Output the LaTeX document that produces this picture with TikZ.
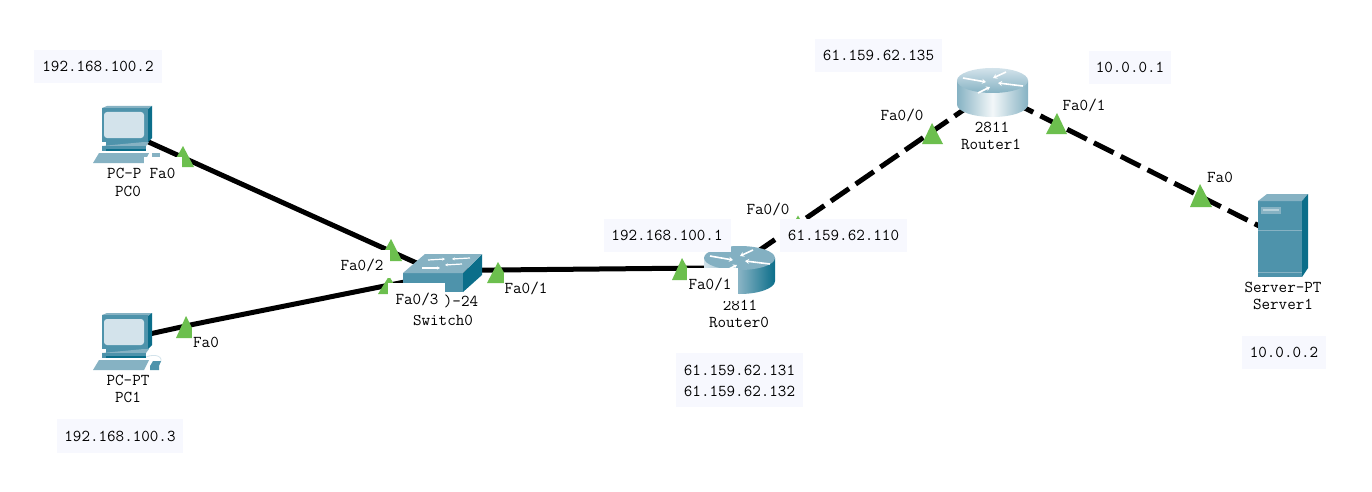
\documentclass[tikz,border=0pt]{standalone}
\usetikzlibrary{arrows.meta}
\definecolor{cfront}{HTML}{4E93AB}
\definecolor{cside}{HTML}{0B6E8A}
\definecolor{ctop}{HTML}{86B2C3}
\definecolor{cscreen}{HTML}{D3E3EB}
\definecolor{cgreen}{HTML}{6CBF4E}
\definecolor{cip}{HTML}{F7F8FE}
\tikzset{
  txt/.style={font=\ttfamily\fontsize{16.6}{19.5}\selectfont,inner sep=0pt,text=black,align=center},
  dev/.style={inner sep=0pt,minimum size=0pt},
  link/.style={line width=5pt,black},
  dlink/.style={link,dash pattern=on 22pt off 8pt},
  port/.style={fill=cgreen,draw=none},
  mask/.style={fill=white,draw=none},
  arr/.style={white,line width=1.6pt,-{Stealth[length=4pt,width=5pt]}},
  sarr/.style={white,line width=1.2pt,-{Stealth[length=3pt,width=3pt]}},
}
\newcommand{\pcicon}[3]{%
\begin{scope}[shift={(#1,#2)}]
  \fill[ctop] (102,108)--(107,106)--(152,106)--(148,109)--cycle;
  \fill[cfront] (102,108)--(148,108)--(148,142)--(102,142)--cycle;
  \fill[cside] (148,109)--(152,106)--(152,138)--(148,142)--cycle;
  \fill[cscreen,rounded corners=3pt] (104,112) rectangle (144,138);
  \fill[cfront] (106,142) rectangle (144,146);
  \fill[ctop] (102,146)--(146,146)--(149,142)--(144,142)--cycle;
  \fill[cfront] (102,146) rectangle (146,151);
  \fill[cside] (106,149) rectangle (146,151);
  \fill[ctop] (99,153)--(149,153)--(144,163)--(93,163)--cycle;
  #3
\end{scope}}
\newcommand{\routerarrows}[2]{%
\begin{scope}[shift={(#1,#2)}]
  \draw[arr] (-29,-2)--(-6,2);
  \draw[arr] (14,-8)--(1,-2);
  \draw[arr] (31,6)--(6,3);
  \draw[arr] (-14,13)--(-2,7);
\end{scope}}
\begin{document}
\begin{tikzpicture}[x=1pt,y=-1pt]
\useasboundingbox (0,0) rectangle (1372,492);
\fill[white] (0,0) rectangle (1372,492);
% device anchors
\node[dev] (pc0) at (122,130) {};
\node[dev] (pc1) at (122,340) {};
\node[dev] (sw) at (442,274.5) {};
\node[dev] (r0) at (738,265) {};
\node[dev] (r1) at (991,91) {};
\node[dev] (srv) at (1283,238) {};
\coordinate (bend) at (195,324);
% links
\draw[link] (pc0) -- (sw);
\draw[link] (pc1) -- (bend) -- (sw);
\draw[link] (sw.center) ++(0,-4) -- (704,268);
\draw[link,dash pattern=on 22pt off 8pt,dash phase=8pt] (r1) -- (r0);
\draw[link,dash pattern=on 22pt off 8pt,dash phase=5pt] (r1) -- (srv);
% PCs
\pcicon{0}{0}{\fill[ctop] (152,153) rectangle (160,157);}
\pcicon{0}{207}{%
  \draw[cscreen,line width=.8pt] (146,150) .. controls (156,146) and (164,150) .. (160,156);
  \fill[cfront] (150,159)--(153,154)--(161,154)--(159,159)--(159,163)--(150,163)--cycle;}
% switch
\fill[cfront] (403,273) rectangle (463,292);
\fill[cside] (463,273)--(482,254)--(482,275)--(463,292)--cycle;
\fill[ctop] (403,273)--(425,254)--(482,254)--(463,273)--cycle;
\draw[sarr] (428,260)--(445,259);
\draw[sarr] (470,258)--(452,259);
\draw[sarr] (422,268)--(440,268);
\draw[sarr] (462,264)--(445,265);
% router 0
\shade[left color=cscreen,right color=cside,middle color=ctop] (704,258) -- (775,258) -- (775,281) arc[start angle=0,end angle=180,x radius=35.5,y radius=13] -- cycle;
\fill[ctop!95!cfront] (739.5,258) ellipse[x radius=35.5,y radius=12];
\routerarrows{739}{258}
% router 1
\shade[left color=ctop,right color=ctop,middle color=white!90!ctop] (957,80.5) -- (1028,80.5) -- (1028,104.5) arc[start angle=0,end angle=180,x radius=35.5,y radius=12.5] -- cycle;
\shade[top color=cscreen,bottom color=ctop] (992.5,80.5) ellipse[x radius=35.5,y radius=12.5];
\routerarrows{992}{80}
% server
\fill[cfront] (1258,201) rectangle (1302,277);
\fill[ctop] (1258,201)--(1267,194)--(1308,194)--(1302,201)--cycle;
\fill[cside] (1302,201)--(1308,194)--(1308,268)--(1302,277)--cycle;
\fill[ctop] (1261,207) rectangle (1281,214);
\fill[ctop!60!white] (1263,209) rectangle (1279,211);
\draw[ctop,line width=.5pt] (1258,230)--(1302,230);
\fill[ctop] (1258,272) rectangle (1302,273);
% port triangles
\fill[port] (171,167)--(183,146)--(194,167)--cycle;
\fill[port] (379,261)--(391,239)--(402,261)--cycle;
\fill[port] (378,294)--(389,276)--(400,294)--cycle;
\fill[port] (487,283)--(498,262)--(510,283)--cycle;
\fill[port] (672,280)--(682,258)--(694,280)--cycle;
\fill[port] (176,338)--(186,316)--(197,338)--cycle;
\fill[port] (922,144)--(932,123)--(943,144)--cycle;
\fill[port] (1046,134)--(1057,113)--(1067,134)--cycle;
\fill[port] (1190,207)--(1200,184)--(1212,207)--cycle;
\fill[port] (796,219)--(798,215.5)--(800,219)--cycle;
% device labels that get partly masked
\node[txt] (l2811a) at (740,305) {2811};
\node[txt] (lsw0) at (443,320) {Switch0};
% masks
\fill[mask] (144,157) rectangle (182,180);
\fill[mask] (335,250) rectangle (390,278);
\fill[mask] (388,283) rectangle (445,315);
\fill[mask] (504,273) rectangle (550,300);
\fill[mask] (687,268) rectangle (738,301);
\fill[mask] (192,328) rectangle (225,352);
% labels
\node[txt,anchor=west] (lpc0t) at (107,173) {PC-P};
\node[txt] (lpc0) at (128,191) {PC0};
\node[txt] (lfa00) at (162.5,173) {Fa0};
\node[txt] (lpc1t) at (128,380) {PC-PT};
\node[txt] (lpc1) at (128,397) {PC1};
\node[txt] (lfa01) at (206,342) {Fa0};
\node[txt] (lf02) at (362,265) {Fa0/2};
\node[txt] (lf03) at (417,299) {Fa0/3};
\node[txt] (lsw24) at (461,301) {)-24};
\node[txt] (lf01) at (526,288) {Fa0/1};
\node[txt] (lr0f1) at (710,284) {Fa0/1};
\node[txt] (lr0f0) at (768,209) {Fa0/0};
\node[txt] (lr0) at (739,322) {Router0};
\node[txt] (lr1f0) at (902,115) {Fa0/0};
\node[txt] (lr1f1) at (1084,105) {Fa0/1};
\node[txt] (l2811b) at (992,127) {2811};
\node[txt] (lr1) at (991,144) {Router1};
\node[txt] (lsf) at (1220,177) {Fa0};
\node[txt] (lspt) at (1283,287) {Server-PT};
\node[txt] (ls1) at (1283,304) {Server1};
% ip boxes
\fill[cip] (34,50) rectangle (162,83);
\node[txt] (ip2) at (98,66) {192.168.100.2};
\fill[cip] (57,419) rectangle (183,453);
\node[txt] (ip3) at (120,436) {192.168.100.3};
\fill[cip] (604,219) rectangle (731,252);
\node[txt] (ip1) at (667,235.5) {192.168.100.1};
\fill[cip] (780,219) rectangle (907,252);
\node[txt] (ip110) at (843.5,235.5) {61.159.62.110};
\fill[cip] (676,353) rectangle (803,407);
\node[txt] (ip131) at (739.5,370) {61.159.62.131};
\node[txt] (ip132) at (739.5,391) {61.159.62.132};
\fill[cip] (815,39) rectangle (942,72);
\node[txt] (ip135) at (878.5,55) {61.159.62.135};
\fill[cip] (1089,51) rectangle (1171,84);
\node[txt] (ip10a) at (1130,67.5) {10.0.0.1};
\fill[cip] (1242,336) rectangle (1326,369);
\node[txt] (ip10b) at (1284,352.5) {10.0.0.2};
\end{tikzpicture}
\end{document}
